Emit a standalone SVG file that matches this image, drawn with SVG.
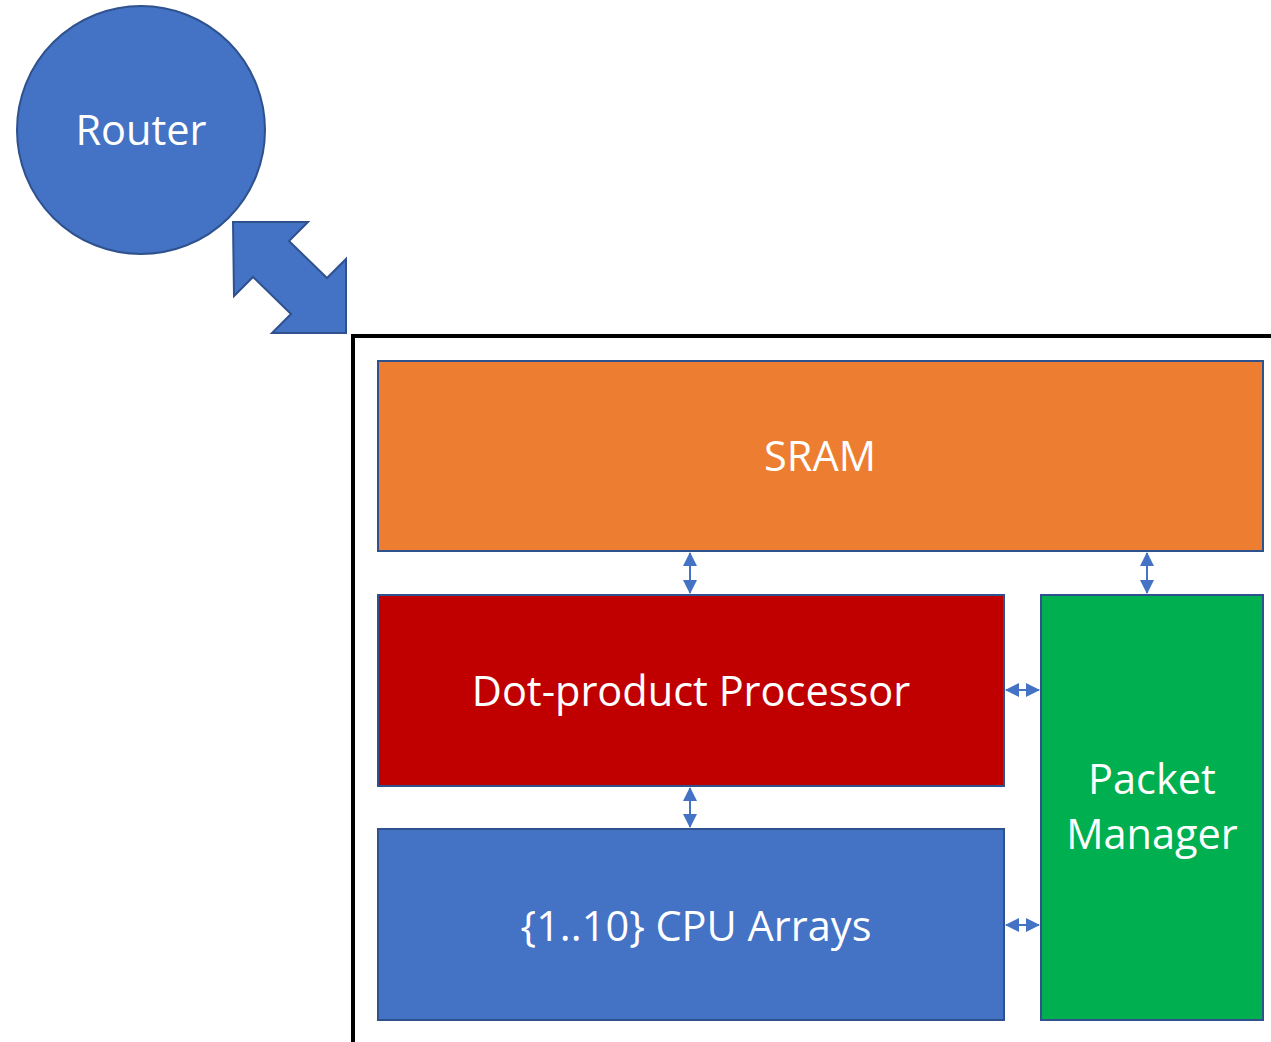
<svg xmlns="http://www.w3.org/2000/svg" width="1271" height="1042" viewBox="0 0 1271 1042">
<style>
.lbl{fill:#fff;font-family:"Open Sans","Noto Sans",sans-serif;font-size:41.5px;text-anchor:middle;dominant-baseline:central}
.blk{stroke:#2F528F;stroke-width:2}
.con{stroke:#4472C4;stroke-width:2;fill:none}
</style>
<defs>
<marker id="ah" viewBox="0 0 14 14" refX="13" refY="7" markerWidth="14" markerHeight="14" markerUnits="userSpaceOnUse" orient="auto-start-reverse">
<path d="M0,0 L14,7 L0,14 Z" fill="#4472C4"/>
</marker>
</defs>
<rect width="1271" height="1042" fill="#fff"/>
<g id="router">
<circle cx="141" cy="130" r="124" fill="#4472C4" stroke="#2F528F" stroke-width="2"/>
<text class="lbl" x="141" y="129">Router</text>
</g>
<g id="link">
<polygon points="233,222 308,222 289,241 327,278 346,259 346,333 272,333 291,314 253,277 234,296" fill="#4472C4" stroke="#2F528F" stroke-width="2"/>
</g>
<g id="chip">
<path d="M353,1042 V336 H1271" fill="none" stroke="#000" stroke-width="4"/>
</g>
<g id="sram">
<rect class="blk" x="378" y="361" width="885" height="190" fill="#ED7D31"/>
<text class="lbl" x="820" y="455">SRAM</text>
</g>
<g id="dpp">
<rect class="blk" x="378" y="595" width="626" height="191" fill="#C00000"/>
<text class="lbl" x="691" y="690">Dot-product Processor</text>
</g>
<g id="cpu">
<rect class="blk" x="378" y="829" width="626" height="191" fill="#4472C4"/>
<text class="lbl" x="696" y="925">{1..10} CPU Arrays</text>
</g>
<g id="pm">
<rect class="blk" x="1041" y="595" width="222" height="425" fill="#00B050"/>
<text class="lbl" x="1152" y="778">Packet</text>
<text class="lbl" x="1152" y="833">Manager</text>
</g>
<g id="connectors">
<line class="con" x1="690" y1="553" x2="690" y2="593" marker-start="url(#ah)" marker-end="url(#ah)"/>
<line class="con" x1="1147" y1="553" x2="1147" y2="593" marker-start="url(#ah)" marker-end="url(#ah)"/>
<line class="con" x1="690" y1="788" x2="690" y2="827" marker-start="url(#ah)" marker-end="url(#ah)"/>
<line class="con" x1="1006" y1="690" x2="1039" y2="690" marker-start="url(#ah)" marker-end="url(#ah)"/>
<line class="con" x1="1006" y1="925" x2="1039" y2="925" marker-start="url(#ah)" marker-end="url(#ah)"/>
</g>
</svg>
